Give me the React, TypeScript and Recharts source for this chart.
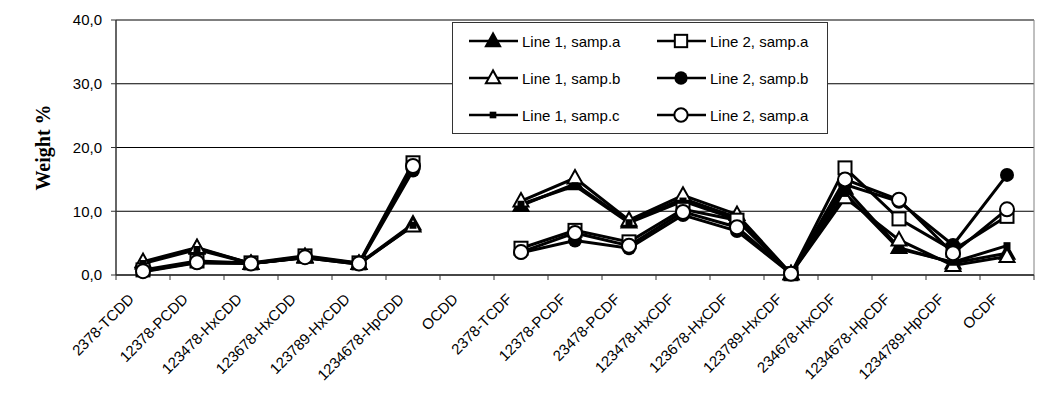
import React from 'react';
import { LineChart, Line, XAxis, YAxis, CartesianGrid } from 'recharts';

// congeners on the x axis
const congeners = [
  '2378-TCDD', '12378-PCDD', '123478-HxCDD', '123678-HxCDD', '123789-HxCDD', '1234678-HpCDD', 'OCDD',
  '2378-TCDF', '12378-PCDF', '23478-PCDF', '123478-HxCDF', '123678-HxCDF', '123789-HxCDF',
  '234678-HxCDF', '1234678-HpCDF', '1234789-HpCDF', 'OCDF',
];

// weight % per congener (OCDD not measured)
const line1SampA = [1.9, 4.2, 1.8, 2.8, 1.8, 8.0, null, 10.9, 14.3, 8.3, 12.0, 9.0, 0.2, 13.6, 4.3, 1.9, 3.4];
const line1SampB = [2.1, 4.3, 1.8, 2.9, 1.8, 7.7, null, 11.6, 15.2, 8.6, 12.5, 9.5, 0.2, 12.1, 5.5, 1.5, 2.9];
const line1SampC = [1.8, 4.0, 1.8, 2.7, 1.7, 7.8, null, 11.1, 14.0, 8.2, 11.6, 8.7, 0.2, 12.8, 4.1, 2.0, 4.6];
const line2SampA = [0.8, 2.2, 1.9, 3.0, 1.9, 17.6, null, 4.2, 7.0, 5.2, 10.3, 8.6, 0.2, 16.8, 8.8, 3.9, 9.2];
const line2SampB = [0.5, 1.9, 1.8, 2.7, 1.7, 16.4, null, 3.5, 5.4, 4.2, 9.4, 6.9, 0.2, 14.2, 11.5, 4.7, 15.7];
const line2SampA2 = [0.6, 2.0, 1.8, 2.8, 1.8, 17.1, null, 3.6, 6.6, 4.6, 9.9, 7.5, 0.2, 15.0, 11.8, 3.4, 10.3];

const yTicks = [0, 10, 20, 30, 40];

type Shape = 'triFilled' | 'triOpen' | 'smallSquare' | 'squareOpen' | 'circleFilled' | 'circleOpen';

const series: { key: string; name: string; shape: Shape; values: (number | null)[] }[] = [
  { key: 's1a', name: 'Line 1, samp.a', shape: 'triFilled', values: line1SampA },
  { key: 's1b', name: 'Line 1, samp.b', shape: 'triOpen', values: line1SampB },
  { key: 's1c', name: 'Line 1, samp.c', shape: 'smallSquare', values: line1SampC },
  { key: 's2a', name: 'Line 2, samp.a', shape: 'squareOpen', values: line2SampA },
  { key: 's2b', name: 'Line 2, samp.b', shape: 'circleFilled', values: line2SampB },
  { key: 's2c', name: 'Line 2, samp.a', shape: 'circleOpen', values: line2SampA2 },
];

const data = congeners.map((name, i) => {
  const row: Record<string, any> = { name };
  series.forEach(s => { row[s.key] = s.values[i]; });
  return row;
});

const W = 1046;
const H = 420;
const MARGIN = { top: 20, right: 12, left: 26, bottom: 45 };
const Y_W = 90;
const HALF_BAND = (W - MARGIN.left - Y_W - MARGIN.right) / congeners.length / 2;
const SANS = "'Liberation Sans', Arial, sans-serif";

const Marker = ({ shape, cx, cy, k = 1 }: { shape: Shape; cx: number; cy: number; k?: number }) => {
  switch (shape) {
    case 'triFilled':
    case 'triOpen': {
      const pts = `${cx},${cy - 8 * k} ${cx - 7.5 * k},${cy + 5.5 * k} ${cx + 7.5 * k},${cy + 5.5 * k}`;
      return <polygon points={pts} fill={shape === 'triFilled' ? '#000' : '#fff'} stroke="#000" strokeWidth={2} />;
    }
    case 'smallSquare':
      return <rect x={cx - 3.5 * k} y={cy - 3.5 * k} width={7 * k} height={7 * k} fill="#000" />;
    case 'squareOpen':
      return <rect x={cx - 6.5 * k} y={cy - 6.5 * k} width={13 * k} height={13 * k} fill="#fff" stroke="#000" strokeWidth={2} />;
    case 'circleFilled':
      return <circle cx={cx} cy={cy} r={7 * k} fill="#000" />;
    default:
      return <circle cx={cx} cy={cy} r={7 * k} fill="#fff" stroke="#000" strokeWidth={2} />;
  }
};

const makeDot = (shape: Shape) => (props: any) => {
  const { cx, cy, index, value } = props;
  if (value == null || cx == null || cy == null) return <g key={`d-${shape}-${index}`} />;
  return <g key={`d-${shape}-${index}`}><Marker shape={shape} cx={cx} cy={cy} /></g>;
};

// labels run up-right at 45 degrees, ending just left of the category centre
const renderTick = (props: any) => {
  const { x, y, payload, index } = props;
  const ex = x - 8;
  const ey = y + 20;
  return (
    <g key={`t-${index}`}>
      <line x1={x - HALF_BAND} y1={y - 5} x2={x - HALF_BAND} y2={y} stroke="#333" strokeWidth={1} />
      {index === congeners.length - 1 && (
        <line x1={x + HALF_BAND} y1={y - 5} x2={x + HALF_BAND} y2={y} stroke="#333" strokeWidth={1} />
      )}
      <text x={ex} y={ey} textAnchor="end" fontFamily={SANS} fontSize={15} fill="#000"
        style={{ transform: 'rotate(-45deg)', transformOrigin: `${ex}px ${ey}px`, transformBox: 'view-box' } as any}>
        {payload.value}
      </text>
    </g>
  );
};

const YLabel = (props: any) => {
  const { viewBox } = props;
  const x = viewBox.x + 17;
  const y = viewBox.y + viewBox.height / 2;
  return (
    <text x={x} y={y} transform={`rotate(-90, ${x}, ${y})`} textAnchor="middle" dominantBaseline="central"
      fontFamily="'Liberation Serif', 'Times New Roman', serif" fontWeight="bold" fontSize={20} fill="#000">
      Weight %
    </text>
  );
};

const LegendBox = () => {
  const rows = [[series[0], series[3]], [series[1], series[4]], [series[2], series[5]]];
  return (
    <div style={{
      position: 'absolute', left: 452, top: 22, width: 376, height: 112,
      border: '1.5px solid #333', background: '#fff', boxSizing: 'border-box',
      fontFamily: SANS, fontSize: 15,
    }}>
      {rows.map((row, r) => (
        <div key={r} style={{ position: 'absolute', top: 7 + r * 37, left: 0, height: 22, width: '100%' }}>
          {row.map((s, c) => (
            <div key={s.key} style={{ position: 'absolute', left: 14 + c * 188, top: 0, display: 'flex', alignItems: 'center', height: 22 }}>
              <svg width={52} height={22} style={{ display: 'block' }}>
                <line x1={2} y1={11} x2={51} y2={11} stroke="#000" strokeWidth={2.5} />
                <Marker shape={s.shape} cx={26} cy={11} k={0.95} />
              </svg>
              <span style={{ marginLeft: 3, whiteSpace: 'nowrap' }}>{s.name}</span>
            </div>
          ))}
        </div>
      ))}
    </div>
  );
};

export default function App() {
  return (
    <div style={{ position: 'relative', width: W, height: H, marginLeft: -8, marginTop: -8, overflow: 'hidden', background: '#fff' }}>
      <div style={{
        position: 'absolute', left: 6, top: 5, width: 1036, height: 415,
        borderLeft: '2px solid #222', borderTop: '2px solid #222', borderRight: '2px solid #222',
        boxSizing: 'border-box', background: '#fff',
      }} />
      <div style={{ position: 'absolute', left: 0, top: 0 }}>
        <LineChart width={W} height={H} data={data} margin={MARGIN}>
          <CartesianGrid vertical={false} stroke="#000" />
          <CartesianGrid
            stroke="#808080"
            verticalCoordinatesGenerator={({ offset }: any) => [offset.left + offset.width]}
            horizontalCoordinatesGenerator={({ offset }: any) => [offset.top]}
          />
          <XAxis dataKey="name" scale="band" interval={0} height={100} tickSize={5} tickMargin={0}
            axisLine={{ stroke: '#333', strokeWidth: 1.5 }} tickLine={false} tick={renderTick} />
          <YAxis width={Y_W} domain={[0, 40]} ticks={yTicks} interval={0}
            tickFormatter={(v: number) => v.toFixed(1).replace('.', ',')}
            axisLine={{ stroke: '#333', strokeWidth: 1.5 }} tickLine={{ stroke: '#333' }} tickSize={5} tickMargin={9}
            tick={{ fontFamily: SANS, fontSize: 15, fill: '#000' }}
            label={<YLabel />} />
          {series.map(s => (
            <Line key={s.key} dataKey={s.key} name={s.name} type="linear" stroke="#000" strokeWidth={3}
              dot={makeDot(s.shape)} activeDot={false} isAnimationActive={false} />
          ))}
        </LineChart>
      </div>
      <LegendBox />
    </div>
  );
}
